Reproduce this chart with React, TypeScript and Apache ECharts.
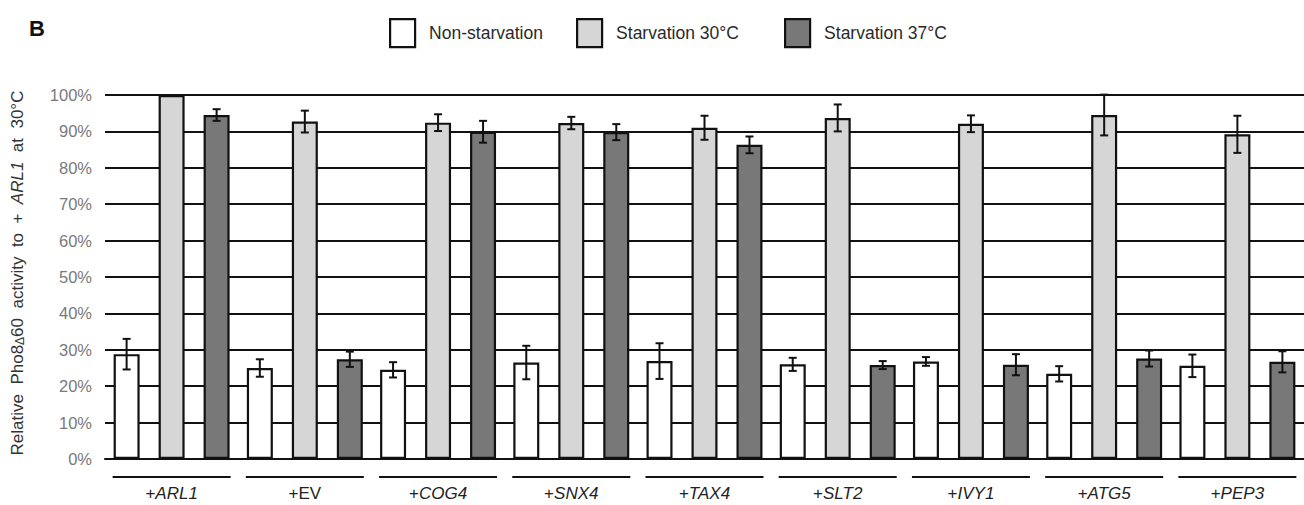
import React, { useEffect, useRef } from "react";
import * as echarts from "echarts";

const categories = ["ARL1", "EV", "COG4", "SNX4", "TAX4", "SLT2", "IVY1", "ATG5", "PEP3"];
const italicCategory = [true, false, true, true, true, true, true, true, true];
const seriesNames = ["Non-starvation", "Starvation 30°C", "Starvation 37°C"];
const seriesColors = ["#ffffff", "#d6d6d6", "#787878"];

const nonStarvation = [28.8, 25.0, 24.5, 26.5, 26.9, 26.0, 26.8, 23.4, 25.6];
const nonStarvationErr = [4.2, 2.4, 2.1, 4.6, 4.9, 1.8, 1.2, 2.1, 3.1];
const starvation30 = [100, 92.7, 92.4, 92.3, 91.0, 93.7, 92.1, 94.5, 89.2];
const starvation30Err = [0, 3.0, 2.3, 1.7, 3.3, 3.7, 2.3, 5.6, 5.1];
const starvation37 = [94.5, 27.4, 89.9, 89.8, 86.3, 25.8, 25.9, 27.6, 26.7];
const starvation37Err = [1.6, 2.1, 3.0, 2.2, 2.3, 1.1, 2.9, 2.2, 2.9];

const yMin = 0;
const yMax = 100;
const yStep = 10;

const FONT = "Liberation Sans, Arial, sans-serif";

export default function App() {
  const ref = useRef<HTMLDivElement>(null);

  useEffect(() => {
    document.body.style.margin = "0";
    if (!ref.current) return;
    const chart = echarts.init(ref.current, undefined, { renderer: "svg" });

    const values = [nonStarvation, starvation30, starvation37];
    const errs = [nonStarvationErr, starvation30Err, starvation37Err];
    const BAR_W = 26;
    const STEP = 45;

    const errData: number[][] = [];
    values.forEach((arr, k) => {
      arr.forEach((v, i) => errData.push([i, v, errs[k][i], k]));
    });

    const barSeries = values.map((arr, k) => ({
      name: seriesNames[k],
      type: "bar",
      data: arr,
      barWidth: BAR_W,
      barGap: "73%",
      itemStyle: { color: seriesColors[k], borderColor: "#111", borderWidth: 2.2 },
      z: 2,
    }));

    const legendLefts = [384, 571, 779];
    const legends = seriesNames.map((n, k) => ({
      data: [{ name: n, icon: "rect" }],
      left: legendLefts[k],
      top: 13,
      itemWidth: 25,
      itemHeight: 28,
      itemStyle: { borderColor: "#111", borderWidth: 2.2 },
      textStyle: { fontSize: 17.5, color: "#2a2a2a", fontFamily: FONT, padding: [0, 0, 0, 9] },
      selectedMode: false,
    }));

    chart.setOption({
      animation: false,
      textStyle: { fontFamily: FONT },
      legend: legends,
      graphic: [
        {
          type: "text",
          left: 29,
          top: 17,
          style: { text: "B", fontSize: 22, fontWeight: "bold", fill: "#111", fontFamily: FONT },
        },
      ],
      grid: { left: 105, top: 95, height: 364, width: 1210 },
      xAxis: {
        type: "category",
        data: categories,
        axisLine: { show: true, lineStyle: { color: "#111", width: 2 } },
        axisTick: { show: false },
        axisLabel: {
          margin: 26,
          formatter: (v: string) => {
            const i = categories.indexOf(v);
            return italicCategory[i] ? `{n|+}{i|${v}}` : `{n|+${v}}`;
          },
          rich: {
            n: { fontSize: 17, color: "#222", fontFamily: FONT },
            i: { fontSize: 17, color: "#222", fontStyle: "italic", fontFamily: FONT },
          },
        },
      },
      yAxis: {
        type: "value",
        min: yMin,
        max: yMax,
        interval: yStep,
        axisLine: { show: false },
        axisTick: { show: false },
        splitLine: { show: true, lineStyle: { color: "#111", width: 2 } },
        axisLabel: {
          formatter: "{value}%",
          fontSize: 16.5,
          color: "#7a7a7a",
          margin: 13,
          fontFamily: FONT,
        },
        name: "{t|Relative  Pho8}{s|Δ}{t|60  activity  to  +  }{i|ARL1}{t|  at  30°C}",
        nameLocation: "middle",
        nameRotate: 90,
        nameGap: 79,
        nameTextStyle: {
          padding: [0, 0, 0, 8],
          rich: {
            t: { fontSize: 17, color: "#333", fontFamily: FONT },
            s: { fontSize: 12, color: "#333", fontFamily: FONT, verticalAlign: "bottom" },
            i: { fontSize: 17, color: "#333", fontStyle: "italic", fontFamily: FONT },
          },
        },
      },
      series: [
        ...barSeries,
        {
          type: "custom",
          name: "errors",
          data: errData,
          encode: { x: 0, y: 1 },
          z: 5,
          clip: false,
          silent: true,
          renderItem: (params: any, api: any) => {
            const i = api.value(0);
            const v = api.value(1);
            const e = api.value(2);
            const k = api.value(3);
            if (!e) return { type: "group", children: [] };
            const hi = api.coord([i, v + e]);
            const lo = api.coord([i, v - e]);
            const x = hi[0] + (k - 1) * STEP;
            const st = { stroke: "#111", lineWidth: 2 };
            return {
              type: "group",
              children: [
                { type: "line", shape: { x1: x, y1: hi[1], x2: x, y2: lo[1] }, style: st },
                { type: "line", shape: { x1: x - 4, y1: hi[1], x2: x + 4, y2: hi[1] }, style: st },
                { type: "line", shape: { x1: x - 4, y1: lo[1], x2: x + 4, y2: lo[1] }, style: st },
              ],
            };
          },
        },
        {
          type: "custom",
          name: "underlines",
          data: categories.map((_, i) => [i, 0]),
          encode: { x: 0, y: 1 },
          z: 5,
          clip: false,
          silent: true,
          renderItem: (params: any, api: any) => {
            const c = api.coord([api.value(0), 0]);
            return {
              type: "line",
              shape: { x1: c[0] - 59, y1: c[1] + 18, x2: c[0] + 59, y2: c[1] + 18 },
              style: { stroke: "#111", lineWidth: 2 },
            };
          },
        },
      ],
    });

    return () => chart.dispose();
  }, []);

  return <div ref={ref} style={{ width: 1304, height: 505 }} />;
}
